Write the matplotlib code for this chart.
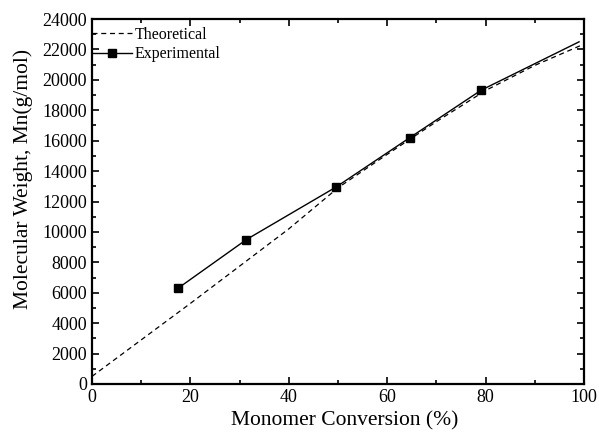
import matplotlib
matplotlib.use("Agg")
import matplotlib.pyplot as plt
from matplotlib.ticker import MultipleLocator

plt.rcParams['font.family'] = ['Liberation Serif', 'DejaVu Serif']

theo_x = [0, 10, 20, 30, 40, 50, 60, 70, 80, 90, 100]
theo_y = [500, 2900, 5300, 7750, 10200, 12900, 15100, 17250, 19300, 20950, 22350]

exp_x = [17.5, 31.4, 49.6, 64.6, 79.1]
exp_y = [6300, 9500, 12950, 16200, 19320]
exp_end_x = [79.1, 99.0]
exp_end_y = [19320, 22500]

fig = plt.figure(figsize=(5.99, 4.37), dpi=100)
ax = fig.add_axes([92/599, 1 - 384/437, (584-92)/599, (384-19)/437])

ax.plot(theo_x, theo_y, 'k--', lw=0.9, dashes=(4, 3), label='Theoretical')
ax.plot(exp_x, exp_y, 'k-', lw=1.0, marker='s', ms=5.5, label='Experimental')
ax.plot(exp_end_x, exp_end_y, 'k-', lw=1.0)

ax.set_xlim(0, 100)
ax.set_ylim(0, 24000)
ax.xaxis.set_major_locator(MultipleLocator(20))
ax.xaxis.set_minor_locator(MultipleLocator(10))
ax.yaxis.set_major_locator(MultipleLocator(2000))
ax.yaxis.set_minor_locator(MultipleLocator(1000))
ax.tick_params(which='both', direction='in', top=True, right=True, labelsize=13, width=1.2)
ax.tick_params(which='major', length=5)
ax.tick_params(which='minor', length=3)
for s in ax.spines.values():
    s.set_linewidth(1.6)

ax.set_xlabel('Monomer Conversion (%)', fontsize=15.5)
ax.set_ylabel('Molecular Weight, Mn(g/mol)', fontsize=15.5)
ax.xaxis.set_label_coords(0.513, -0.075)
ax.yaxis.set_label_coords(-0.12, 0.563)

ax.legend(loc='upper left', bbox_to_anchor=(0, 0.978), frameon=False, fontsize=11.5,
          handlelength=2.5, borderaxespad=0, borderpad=0, handletextpad=0.15,
          labelspacing=0.2)

fig.savefig('out.png', dpi=100)
